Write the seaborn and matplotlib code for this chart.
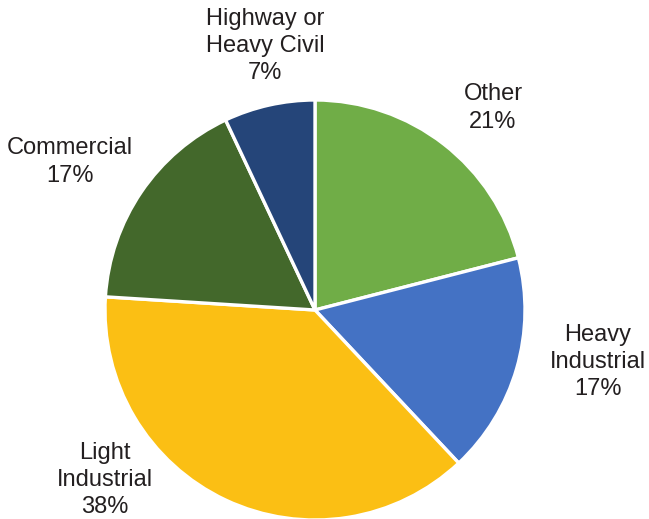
import matplotlib
matplotlib.use("Agg")
import matplotlib.pyplot as plt
import seaborn as sns

sns.set_theme(style="white")
plt.rcParams['font.family'] = ['Liberation Sans', 'DejaVu Sans']

# Project share by construction sector (clockwise from 12 o'clock)
sectors = ["Other", "Heavy\nIndustrial", "Light\nIndustrial", "Commercial", "Highway or\nHeavy Civil"]
shares = [21, 17, 38, 17, 7]
colors = ["#70AD47", "#4472C4", "#FBBF14", "#43682B", "#254579"]

# Label anchor points in canvas pixels (x from left, y from top)
label_x = [493, 598, 105, 70, 265]
label_y = [108, 362, 480, 162, 46]

W, H = 649, 519
fig = plt.figure(figsize=(W / 100, H / 100), dpi=100)
ax = fig.add_axes([0, 0, 1, 1])

ax.pie(shares, colors=colors, startangle=90, counterclock=False,
       center=(315, H - 310), radius=210, frame=True,
       wedgeprops=dict(edgecolor="white", linewidth=2.4))
ax.set_xlim(0, W)
ax.set_ylim(0, H)
ax.set_aspect("equal")
ax.axis("off")

for name, val, x, y in zip(sectors, shares, label_x, label_y):
    ax.text(x, H - y, f"{name}\n{val}%", ha="center", va="center",
            fontsize=17, color="#231F20", linespacing=1.32, multialignment="center")

fig.savefig("out.png", dpi=100)
